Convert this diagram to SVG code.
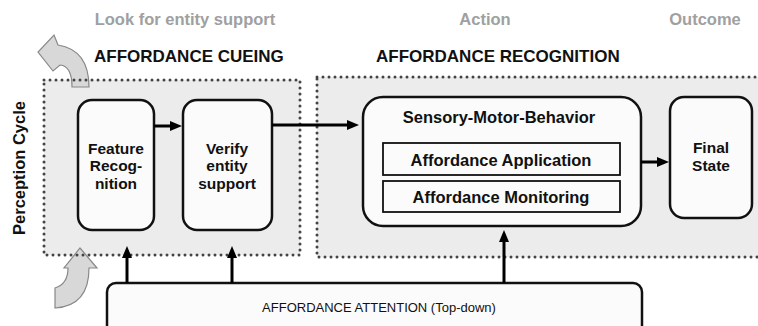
<svg xmlns="http://www.w3.org/2000/svg" width="758" height="326" viewBox="0 0 758 326">
  <defs>
    <marker id="ah" viewBox="0 0 12 10" refX="2" refY="5" markerWidth="12" markerHeight="10" markerUnits="userSpaceOnUse" orient="auto">
      <path d="M0,0 L12,5 L0,10 z" fill="#000"/>
    </marker>
    <style>
      text { font-family: "Liberation Sans", Arial, sans-serif; font-weight: bold; text-anchor: middle; }
      .phase { fill: #a0a0a0; font-size: 16.5px; }
      .title { fill: #111; font-size: 17px; text-anchor: start; }
      .zone { fill: #ececec; }
      .dots { fill: none; stroke: #444; stroke-width: 3; stroke-dasharray: 0 6; stroke-linecap: round; }
      .node { fill: #fbfbfb; stroke: #111; stroke-width: 2.5; }
      .sub { fill: #fbfbfb; stroke: #111; stroke-width: 1.8; }
      .lbl { fill: #111; font-size: 15.5px; }
      .lbl2 { fill: #111; font-size: 16.5px; }
      .plain { fill: #111; font-size: 13px; font-weight: normal; }
      .conn { stroke: #000; stroke-width: 3; fill: none; marker-end: url(#ah); }
      .cycle { fill: #d8d8d8; stroke: #888; stroke-width: 1.2; }
    </style>
  </defs>

  <rect width="758" height="326" fill="#fff"/>

  <!-- phase headings -->
  <text class="phase" x="185" y="25">Look for entity support</text>
  <text class="phase" x="485" y="25">Action</text>
  <text class="phase" x="705" y="25">Outcome</text>

  <!-- zone titles -->
  <text class="title" x="94" y="62">AFFORDANCE CUEING</text>
  <text class="title" x="376" y="62">AFFORDANCE RECOGNITION</text>

  <!-- perception cycle label -->
  <text fill="#111" font-size="16.5" transform="translate(25,168) rotate(-90)">Perception Cycle</text>

  <!-- zone backgrounds -->
  <rect class="zone" x="44" y="80" width="256" height="175"/>
  <rect class="zone" x="317" y="77" width="460" height="180"/>

  <!-- perception cycle arrows -->
  <path class="cycle" d="M89,87 L72,87 Q72,66 60,65 L53,71 L38,52 L54,35 L58,45 Q89,50 89,87 Z"/>
  <path class="cycle" d="M55,308 L55,288 Q68,284 68,268 L64,268 L80,248 L97,268 L89,268 Q89,306 55,308 Z"/>

  <!-- zone outlines -->
  <rect class="dots" x="44" y="80" width="256" height="175"/>
  <rect class="dots" x="317" y="77" width="460" height="180"/>

  <g id="feature-recognition">
    <rect class="node" x="78" y="100" width="76" height="130" rx="14"/>
    <text class="lbl" x="116" y="154">Feature</text>
    <text class="lbl" x="116" y="171">Recog-</text>
    <text class="lbl" x="116" y="189">nition</text>
  </g>

  <g id="verify-entity-support">
    <rect class="node" x="183" y="100" width="89" height="130" rx="14"/>
    <text class="lbl" x="227" y="154">Verify</text>
    <text class="lbl" x="227" y="171">entity</text>
    <text class="lbl" x="227" y="189">support</text>
  </g>

  <g id="sensory-motor-behavior">
    <rect class="node" x="363" y="97" width="278" height="129" rx="20"/>
    <text class="lbl2" x="499" y="123">Sensory-Motor-Behavior</text>
  </g>

  <g id="affordance-application">
    <rect class="sub" x="383" y="143" width="237" height="32"/>
    <text class="lbl2" x="501" y="166">Affordance Application</text>
  </g>

  <g id="affordance-monitoring">
    <rect class="sub" x="383" y="181" width="237" height="31"/>
    <text class="lbl2" x="501" y="203">Affordance Monitoring</text>
  </g>

  <g id="final-state">
    <rect class="node" x="670" y="97" width="82" height="121" rx="14"/>
    <text class="lbl" x="711" y="153">Final</text>
    <text class="lbl" x="711" y="171">State</text>
  </g>

  <g id="affordance-attention">
    <rect class="node" x="107" y="283" width="535" height="60" rx="9"/>
    <text class="plain" x="379" y="312">AFFORDANCE ATTENTION (Top-down)</text>
  </g>

  <g id="connectors">
    <path class="conn" d="M154,126 L172,126"/>
    <path class="conn" d="M272,125 L349,125"/>
    <path class="conn" d="M641,162 L659,162"/>
    <path class="conn" d="M127,283 L127,256"/>
    <path class="conn" d="M232,283 L232,256"/>
    <path class="conn" d="M504,283 L504,240"/>
  </g>
</svg>
